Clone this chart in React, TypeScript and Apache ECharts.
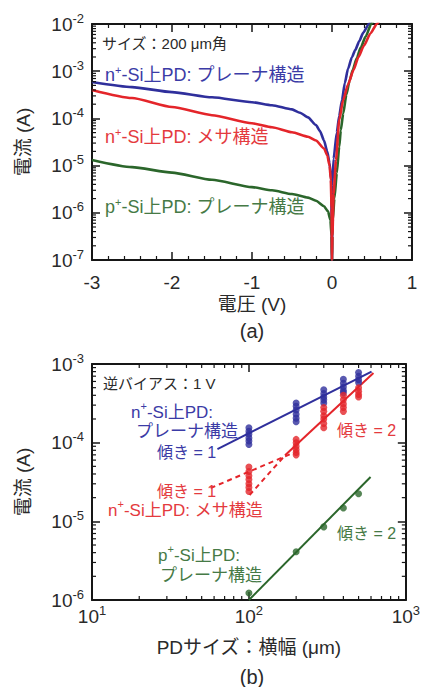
import React, { useEffect, useRef } from 'react';
import * as echarts from 'echarts';

const FONT = '"Liberation Sans", Arial, "Noto Sans CJK JP", sans-serif';
const BLUE = '#2f2f9c';
const RED = '#e4252a';
const GREEN = '#2b662b';
const BLUE_TXT = '#3b3ba6';
const RED_TXT = '#e43a3e';
const GREEN_TXT = '#467a46';
const AXIS = '#161616';
const TXT = '#2a2a2a';

// ---------- (a) I-V curves, 200 µm square ----------
const ivXTicks = [-3, -2, -1, 0, 1];
const ivYExps = [-7, -6, -5, -4, -3, -2];

const nPlanarV = [-3, -2.5, -2, -1.5, -1, -0.75, -0.5, -0.4, -0.3, -0.2, -0.15, -0.1, -0.06, -0.03, -0.01, 0, 0.005, 0.02, 0.06, 0.09, 0.125, 0.16, 0.2, 0.25, 0.29, 0.34, 0.39, 0.46, 0.5];
const nPlanarI = [5.9e-4, 4.6e-4, 3.6e-4, 2.8e-4, 2.2e-4, 1.9e-4, 1.55e-4, 1.32e-4, 1.05e-4, 7.2e-5, 5.4e-5, 3.4e-5, 2.0e-5, 1.12e-5, 5e-6, 1e-7, 4e-6, 1.4e-5, 5e-5, 1.12e-4, 2.45e-4, 5.6e-4, 1.12e-3, 2.0e-3, 2.8e-3, 4.3e-3, 6.5e-3, 1.0e-2, 1.26e-2];

const nMesaV = [-3, -2.5, -2, -1.5, -1, -0.75, -0.5, -0.3, -0.2, -0.1, -0.06, -0.03, -0.015, -0.005, 0, 0.005, 0.02, 0.05, 0.09, 0.14, 0.2, 0.27, 0.33, 0.4, 0.48, 0.56, 0.6];
const nMesaI = [4.0e-4, 2.7e-4, 1.74e-4, 1.17e-4, 7.9e-5, 6.5e-5, 5.1e-5, 4.1e-5, 3.4e-5, 2.3e-5, 1.66e-5, 1.0e-5, 5e-6, 1.26e-6, 1e-7, 3.2e-7, 2.5e-6, 1.3e-5, 9.3e-5, 2.45e-4, 5.2e-4, 1.07e-3, 2.0e-3, 3.5e-3, 6.3e-3, 1.0e-2, 1.25e-2];

const pPlanarV = [-3, -2.5, -2, -1.5, -1, -0.75, -0.5, -0.3, -0.2, -0.1, -0.05, -0.02, -0.005, 0, 0.003, 0.01, 0.03, 0.06, 0.09, 0.11, 0.14, 0.18, 0.22, 0.26, 0.31, 0.36, 0.42, 0.49, 0.52];
const pPlanarI = [1.32e-5, 9.3e-6, 7.1e-6, 5.0e-6, 3.5e-6, 3.0e-6, 2.5e-6, 2.1e-6, 1.8e-6, 1.38e-6, 1.07e-6, 7e-7, 3.2e-7, 1e-7, 3.2e-7, 7e-7, 2.0e-6, 6.9e-6, 2.5e-5, 5.6e-5, 1.26e-4, 3.2e-4, 6.3e-4, 1.07e-3, 1.9e-3, 3.2e-3, 5.4e-3, 1.0e-2, 1.2e-2];

// ---------- (b) current vs PD width at -1 V ----------
const sizeXExps = [1, 2, 3];
const sizeYExps = [-6, -5, -4, -3];
const pdSizes = [100, 200, 300, 400, 500];

const nPlanarCurrents = [
  [1.55e-4, 1.4e-4, 1.28e-4, 1.15e-4, 1.05e-4, 9.5e-5],
  [3.2e-4, 2.9e-4, 2.6e-4, 2.3e-4, 2.05e-4, 1.85e-4],
  [4.7e-4, 4.2e-4, 3.8e-4, 3.5e-4, 3.2e-4],
  [6.4e-4, 5.7e-4, 5.1e-4, 4.6e-4, 4.3e-4],
  [7.8e-4, 7.0e-4, 6.3e-4, 5.8e-4],
];
const nMesaCurrents = [
  [4.9e-5, 4.3e-5, 3.8e-5, 3.4e-5, 3.0e-5, 2.7e-5, 2.4e-5],
  [1.1e-4, 1.0e-4, 9.0e-5, 8.2e-5, 7.5e-5, 7.0e-5],
  [2.8e-4, 2.5e-4, 2.2e-4, 2.0e-4, 1.75e-4, 1.55e-4],
  [4.0e-4, 3.5e-4, 3.1e-4, 2.8e-4, 2.5e-4],
  [5.0e-4, 4.5e-4, 4.1e-4, 3.8e-4],
];
const pPlanarCurrents = [1.23e-6, 4.1e-6, 8.5e-6, 1.48e-5, 2.24e-5];

const nPlanarFitX = [63, 605];
const nPlanarFitI = [8.3e-5, 8.0e-4];
const nMesaFitX = [170, 622];
const nMesaFitI = [6.9e-5, 7.7e-4];
const nMesaDashSlope2X = [101, 170];
const nMesaDashSlope2I = [2.16e-5, 6.9e-5];
const nMesaDashSlope1X = [57, 185];
const nMesaDashSlope1I = [2.65e-5, 7.2e-5];
const pPlanarFitX = [100, 596];
const pPlanarFitI = [1.0e-6, 3.66e-5];

const zip = (xs: number[], ys: number[]) => xs.map((x, i) => [x, ys[i]]);

const minorValues = (e0: number, e1: number) => {
  const out: number[] = [];
  for (let e = e0; e < e1; e++) for (let m = 2; m <= 9; m++) out.push(m * Math.pow(10, e));
  return out;
};

const logLabel = (v: number) => `{b|10}{s|${Math.round(Math.log10(v))}}`;
const logRich = {
  b: { fontSize: 19, lineHeight: 19, verticalAlign: 'bottom', fontFamily: FONT, color: TXT },
  s: { fontSize: 13, lineHeight: 13, verticalAlign: 'bottom', padding: [0, 0, 9, 0], fontFamily: FONT, color: TXT },
};

const axisLine = { show: true, onZero: false, lineStyle: { color: AXIS, width: 2 } };
const majorTick = { show: true, inside: true, length: 8, lineStyle: { color: AXIS, width: 1.5 } };
const noLabel = { show: false };

const tickLine = (x1: number, y1: number, x2: number, y2: number) => ({
  type: 'line',
  shape: { x1, y1, x2, y2 },
  style: { stroke: AXIS, lineWidth: 1.2 },
});

const yMinor = (xi: number, yi: number, values: number[], xRef: number) => ({
  type: 'custom',
  xAxisIndex: xi,
  yAxisIndex: yi,
  silent: true,
  z: 5,
  data: values.map((v) => [xRef, v]),
  renderItem: (params: any, api: any) => {
    const cs = params.coordSys;
    const p = api.coord([api.value(0), api.value(1)]);
    return {
      type: 'group',
      children: [tickLine(cs.x, p[1], cs.x + 4, p[1]), tickLine(cs.x + cs.width, p[1], cs.x + cs.width - 4, p[1])],
    };
  },
});

const xMinor = (xi: number, yi: number, values: number[], yRef: number) => ({
  type: 'custom',
  xAxisIndex: xi,
  yAxisIndex: yi,
  silent: true,
  z: 5,
  data: values.map((v) => [v, yRef]),
  renderItem: (params: any, api: any) => {
    const cs = params.coordSys;
    const p = api.coord([api.value(0), api.value(1)]);
    return {
      type: 'group',
      children: [tickLine(p[0], cs.y + cs.height, p[0], cs.y + cs.height - 4), tickLine(p[0], cs.y, p[0], cs.y + 4)],
    };
  },
});

const txt = (x: number, y: number, text: string, size: number, color: string, align = 'left') => ({
  type: 'text',
  x,
  y,
  z: 20,
  style: {
    text,
    fill: color,
    fontSize: size,
    fontFamily: FONT,
    align,
    verticalAlign: 'middle',
  },
});

const supTxt = (x: number, y: number, pre: string, sup: string, post: string, size: number, color: string) => ({
  type: 'text',
  x,
  y,
  z: 20,
  style: {
    text: `{m|${pre}}{s|${sup}}{m|${post}}`,
    fill: color,
    fontFamily: FONT,
    fontSize: size,
    verticalAlign: 'middle',
    rich: {
      m: { fontSize: size, lineHeight: size, verticalAlign: 'bottom', fill: color, fontFamily: FONT },
      s: { fontSize: Math.round(size * 0.62), lineHeight: Math.round(size * 0.62), verticalAlign: 'bottom', padding: [0, 0, Math.round(size * 0.5), 0], fill: color, fontFamily: FONT },
    },
  },
});

const scatterData = (groups: number[][]) =>
  groups.flatMap((g, i) => g.map((v) => [pdSizes[i], v]));

const ivLine = (v: number[], i: number[], color: string) => ({
  type: 'line', xAxisIndex: 0, yAxisIndex: 0, data: zip(v, i),
  showSymbol: false, smooth: 0.2, smoothMonotone: 'x', clip: true,
  lineStyle: { color, width: 2.6 }, z: 3,
});

const fitLine = (x: number[], y: number[], color: string, dashed = false) => ({
  type: 'line', xAxisIndex: 2, yAxisIndex: 2, data: zip(x, y),
  showSymbol: false, lineStyle: { color, width: 2, type: dashed ? [5, 4] : 'solid' }, z: 3,
});

export default function App() {
  const ref = useRef<HTMLDivElement>(null);
  useEffect(() => {
    const chart = echarts.init(ref.current!, null, { renderer: 'svg' });
    const option: any = {
      animation: false,
      backgroundColor: '#fff',
      textStyle: { fontFamily: FONT },
      grid: [
        { left: 92, top: 24, width: 320, height: 236 },
        { left: 92, top: 364, width: 320, height: 236 },
      ],
      xAxis: [
        {
          gridIndex: 0,
          type: 'value',
          min: ivXTicks[0],
          max: ivXTicks[ivXTicks.length - 1],
          interval: 1,
          position: 'bottom',
          axisLine,
          axisTick: majorTick,
          minorTick: { show: true, splitNumber: 5, length: 4, lineStyle: { color: AXIS, width: 1.2 } },
          splitLine: { show: false },
          axisLabel: { color: TXT, fontSize: 19, fontFamily: FONT, margin: 13 },
          name: '電圧 (V)',
          nameLocation: 'middle',
          nameGap: 35,
          nameTextStyle: { color: TXT, fontSize: 19, fontFamily: FONT },
        },
        {
          gridIndex: 0,
          type: 'value',
          min: ivXTicks[0],
          max: ivXTicks[ivXTicks.length - 1],
          interval: 1,
          position: 'top',
          axisLine,
          axisTick: majorTick,
          minorTick: { show: true, splitNumber: 5, length: 4, lineStyle: { color: AXIS, width: 1.2 } },
          splitLine: { show: false },
          axisLabel: noLabel,
        },
        {
          gridIndex: 1,
          type: 'log',
          logBase: 10,
          min: Math.pow(10, sizeXExps[0]),
          max: Math.pow(10, sizeXExps[sizeXExps.length - 1]),
          splitNumber: 2,
          position: 'bottom',
          axisLine,
          axisTick: majorTick,
          splitLine: { show: false },
          axisLabel: { formatter: logLabel, rich: logRich, margin: 7 },
          name: 'PDサイズ：横幅 (μm)',
          nameLocation: 'middle',
          nameGap: 38,
          nameTextStyle: { color: TXT, fontSize: 19, fontFamily: FONT },
        },
        {
          gridIndex: 1,
          type: 'log',
          logBase: 10,
          min: Math.pow(10, sizeXExps[0]),
          max: Math.pow(10, sizeXExps[sizeXExps.length - 1]),
          splitNumber: 2,
          position: 'top',
          axisLine,
          axisTick: majorTick,
          splitLine: { show: false },
          axisLabel: noLabel,
        },
      ],
      yAxis: [
        {
          gridIndex: 0,
          type: 'log',
          logBase: 10,
          min: Math.pow(10, ivYExps[0]),
          max: Math.pow(10, ivYExps[ivYExps.length - 1]),
          splitNumber: 5,
          position: 'left',
          axisLine,
          axisTick: majorTick,
          splitLine: { show: false },
          axisLabel: { formatter: logLabel, rich: logRich, margin: 8 },
          name: '電流 (A)',
          nameLocation: 'middle',
          nameGap: 59,
          nameTextStyle: { color: TXT, fontSize: 19, fontFamily: FONT },
        },
        {
          gridIndex: 0,
          type: 'log',
          logBase: 10,
          min: Math.pow(10, ivYExps[0]),
          max: Math.pow(10, ivYExps[ivYExps.length - 1]),
          splitNumber: 5,
          position: 'right',
          axisLine,
          axisTick: majorTick,
          splitLine: { show: false },
          axisLabel: noLabel,
        },
        {
          gridIndex: 1,
          type: 'log',
          logBase: 10,
          min: Math.pow(10, sizeYExps[0]),
          max: Math.pow(10, sizeYExps[sizeYExps.length - 1]),
          splitNumber: 3,
          position: 'left',
          axisLine,
          axisTick: majorTick,
          splitLine: { show: false },
          axisLabel: { formatter: logLabel, rich: logRich, margin: 8 },
          name: '電流 (A)',
          nameLocation: 'middle',
          nameGap: 59,
          nameTextStyle: { color: TXT, fontSize: 19, fontFamily: FONT },
        },
        {
          gridIndex: 1,
          type: 'log',
          logBase: 10,
          min: Math.pow(10, sizeYExps[0]),
          max: Math.pow(10, sizeYExps[sizeYExps.length - 1]),
          splitNumber: 3,
          position: 'right',
          axisLine,
          axisTick: majorTick,
          splitLine: { show: false },
          axisLabel: noLabel,
        },
      ],
      series: [
        // minor log ticks
        yMinor(0, 0, minorValues(ivYExps[0], ivYExps[ivYExps.length - 1]), -3),
        yMinor(2, 2, minorValues(sizeYExps[0], sizeYExps[sizeYExps.length - 1]), 10),
        xMinor(2, 2, minorValues(sizeXExps[0], sizeXExps[sizeXExps.length - 1]), 1e-6),
        // (a) curves
        ivLine(nPlanarV, nPlanarI, BLUE),
        ivLine(pPlanarV, pPlanarI, GREEN),
        ivLine(nMesaV, nMesaI, RED),
        // (b) fits
        fitLine(nPlanarFitX, nPlanarFitI, BLUE),
        fitLine(nMesaFitX, nMesaFitI, RED),
        fitLine(nMesaDashSlope2X, nMesaDashSlope2I, RED, true),
        fitLine(nMesaDashSlope1X, nMesaDashSlope1I, RED, true),
        fitLine(pPlanarFitX, pPlanarFitI, GREEN),
        // (b) measured points
        {
          type: 'scatter', xAxisIndex: 2, yAxisIndex: 2, data: scatterData(nPlanarCurrents),
          symbol: 'circle', symbolSize: 7, itemStyle: { color: BLUE }, z: 4,
        },
        {
          type: 'scatter', xAxisIndex: 2, yAxisIndex: 2, data: scatterData(nMesaCurrents),
          symbol: 'circle', symbolSize: 7, itemStyle: { color: RED }, z: 4,
        },
        {
          type: 'scatter', xAxisIndex: 2, yAxisIndex: 2, data: pdSizes.map((s, i) => [s, pPlanarCurrents[i]]),
          symbol: 'circle', symbolSize: 7, itemStyle: { color: GREEN }, z: 4,
        },
      ],
      graphic: [
        // (a)
        txt(102, 43, 'サイズ：200 μm角', 15, TXT),
        supTxt(105, 75, 'n', '+', '-Si上PD: プレーナ構造', 18, BLUE_TXT),
        supTxt(105, 137, 'n', '+', '-Si上PD: メサ構造', 18, RED_TXT),
        supTxt(105, 207, 'p', '+', '-Si上PD: プレーナ構造', 18, GREEN_TXT),
        txt(252, 331, '(a)', 20, TXT, 'center'),
        // (b)
        txt(103, 383, '逆バイアス：1 V', 15, TXT),
        supTxt(131, 412, 'n', '+', '-Si上PD:', 17, BLUE_TXT),
        txt(136, 431, 'プレーナ構造', 17, BLUE_TXT),
        txt(157, 452, '傾き = 1', 16, BLUE_TXT),
        txt(337, 430, '傾き = 2', 16, RED_TXT),
        txt(157, 491, '傾き = 1', 16, RED_TXT),
        supTxt(108, 510, 'n', '+', '-Si上PD: メサ構造', 17, RED_TXT),
        txt(337, 533, '傾き = 2', 16, GREEN_TXT),
        supTxt(158, 555, 'p', '+', '-Si上PD:', 17, GREEN_TXT),
        txt(160, 575, 'プレーナ構造', 17, GREEN_TXT),
        txt(252, 677, '(b)', 20, TXT, 'center'),
      ],
    };
    chart.setOption(option);
    return () => chart.dispose();
  }, []);
  return <div ref={ref} style={{ position: 'absolute', left: 0, top: 0, width: 423, height: 687 }} />;
}
